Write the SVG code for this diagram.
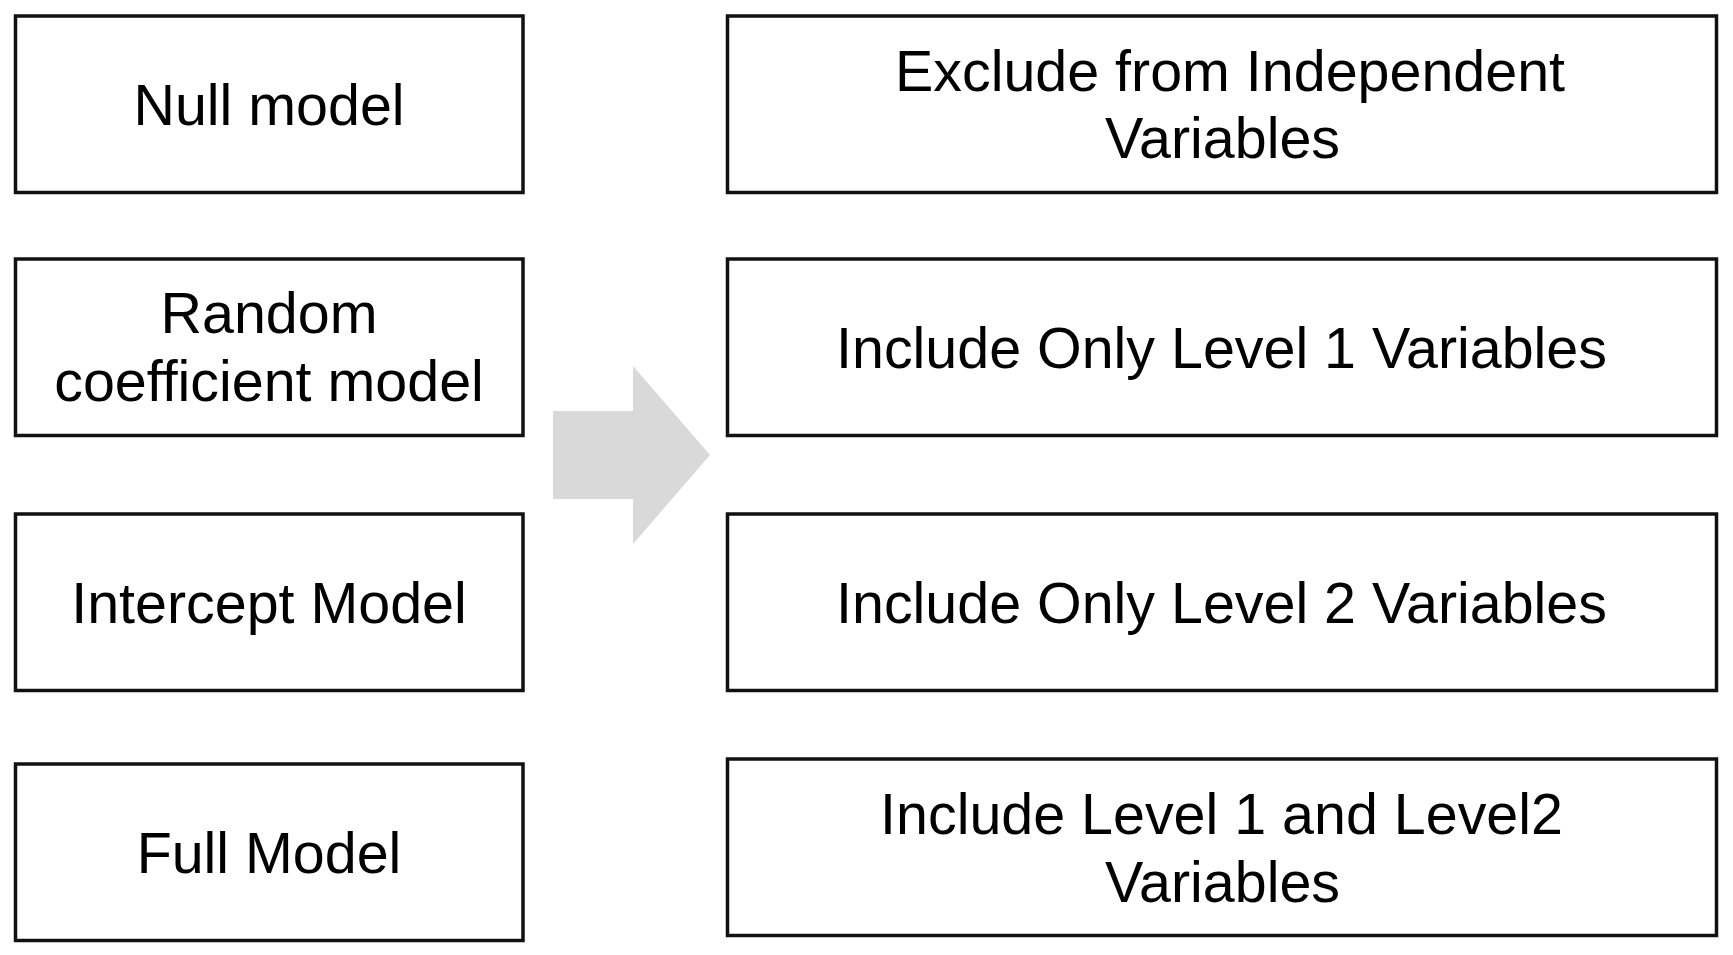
<svg xmlns="http://www.w3.org/2000/svg" width="1733" height="955" viewBox="0 0 1733 955">
<style>
.box{fill:#fff;stroke:#111;stroke-width:3.5}
.t{font-family:"Liberation Sans",Arial,sans-serif;font-size:57.4px;fill:#000;text-anchor:middle}
</style>
<rect width="1733" height="955" fill="#fff"/>
<g id="null-model"><rect class="box" x="15.5" y="16" width="507.5" height="176.5"/><text class="t" x="269" y="124.5">Null model</text></g>
<g id="random-coefficient-model"><rect class="box" x="15.5" y="259" width="507.5" height="176.5"/><text class="t" x="269" y="333">Random</text><text class="t" x="269" y="401">coefficient model</text></g>
<g id="intercept-model"><rect class="box" x="15.5" y="514" width="507.5" height="176.5"/><text class="t" x="269" y="622.5">Intercept Model</text></g>
<g id="full-model"><rect class="box" x="15.5" y="764" width="507.5" height="176.5"/><text class="t" x="269" y="872.5">Full Model</text></g>
<g id="connectors"><polygon points="553,411 633,411 633,366 710,455 633,544 633,499 553,499" fill="#d9d9d9"/></g>
<g id="exclude"><rect class="box" x="727.5" y="16" width="989" height="176.5"/><text class="t" x="1230" y="90.5">Exclude from Independent</text><text class="t" x="1222.5" y="158">Variables</text></g>
<g id="level1"><rect class="box" x="727.5" y="259" width="989" height="176.5"/><text class="t" x="1221.5" y="367.5">Include Only Level 1 Variables</text></g>
<g id="level2"><rect class="box" x="727.5" y="514" width="989" height="176.5"/><text class="t" x="1221.5" y="622.5">Include Only Level 2 Variables</text></g>
<g id="level1and2"><rect class="box" x="727.5" y="759" width="989" height="176.5"/><text class="t" x="1221.5" y="833.5">Include Level 1 and Level2</text><text class="t" x="1222.5" y="901.5">Variables</text></g>
</svg>
